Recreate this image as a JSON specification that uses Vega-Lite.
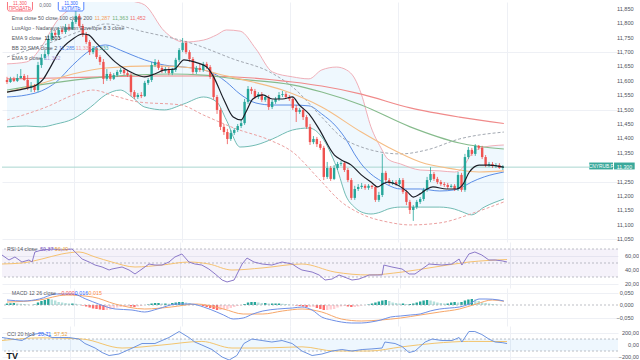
{
"$schema":"https://vega.github.io/schema/vega-lite/v6.json",
"padding":0,"spacing":0,"bounds":"flush","background":"white",
"config":{"view":{"stroke":null},"font":"Liberation Sans",
 "axis":{"domain":false,"ticks":false,"labels":false,"gridColor":"#eef0f5","gridWidth":1,"title":null},
 "text":{"font":"Liberation Sans","fontSize":5.3,"align":"left","baseline":"middle"}},
"datasets":{
"candles":[
{"i":0,"o":11.603,"h":11.614,"l":11.589,"c":11.596},{"i":1,"o":11.596,"h":11.614,"l":11.593,"c":11.607},{"i":2,"o":11.607,"h":11.614,"l":11.596,"c":11.600},{"i":3,"o":11.600,"h":11.624,"l":11.596,"c":11.610},{"i":4,"o":11.610,"h":11.641,"l":11.607,"c":11.617},{"i":5,"o":11.617,"h":11.624,"l":11.600,"c":11.603},{"i":6,"o":11.603,"h":11.620,"l":11.568,"c":11.575},{"i":7,"o":11.575,"h":11.596,"l":11.561,"c":11.582},{"i":8,"o":11.582,"h":11.589,"l":11.561,"c":11.568},{"i":9,"o":11.568,"h":11.666,"l":11.561,"c":11.655},
{"i":10,"o":11.655,"h":11.693,"l":11.645,"c":11.680},{"i":11,"o":11.680,"h":11.707,"l":11.673,"c":11.693},{"i":12,"o":11.693,"h":11.760,"l":11.687,"c":11.746},{"i":13,"o":11.746,"h":11.777,"l":11.739,"c":11.767},{"i":14,"o":11.767,"h":11.777,"l":11.753,"c":11.760},{"i":15,"o":11.760,"h":11.787,"l":11.753,"c":11.777},{"i":16,"o":11.777,"h":11.784,"l":11.763,"c":11.770},{"i":17,"o":11.770,"h":11.798,"l":11.763,"c":11.787},{"i":18,"o":11.787,"h":11.798,"l":11.773,"c":11.780},{"i":19,"o":11.780,"h":11.812,"l":11.777,"c":11.805},
{"i":20,"o":11.805,"h":11.847,"l":11.798,"c":11.826},{"i":21,"o":11.826,"h":11.833,"l":11.784,"c":11.791},{"i":22,"o":11.791,"h":11.798,"l":11.753,"c":11.760},{"i":23,"o":11.760,"h":11.770,"l":11.728,"c":11.735},{"i":24,"o":11.735,"h":11.742,"l":11.690,"c":11.700},{"i":25,"o":11.700,"h":11.721,"l":11.693,"c":11.714},{"i":26,"o":11.714,"h":11.721,"l":11.676,"c":11.683},{"i":27,"o":11.683,"h":11.690,"l":11.655,"c":11.666},{"i":28,"o":11.666,"h":11.676,"l":11.589,"c":11.607},{"i":29,"o":11.607,"h":11.641,"l":11.600,"c":11.624},
{"i":30,"o":11.624,"h":11.631,"l":11.600,"c":11.607},{"i":31,"o":11.607,"h":11.627,"l":11.603,"c":11.620},{"i":32,"o":11.620,"h":11.638,"l":11.614,"c":11.631},{"i":33,"o":11.631,"h":11.645,"l":11.624,"c":11.638},{"i":34,"o":11.638,"h":11.645,"l":11.620,"c":11.627},{"i":35,"o":11.627,"h":11.634,"l":11.614,"c":11.620},{"i":36,"o":11.620,"h":11.627,"l":11.547,"c":11.561},{"i":37,"o":11.561,"h":11.568,"l":11.537,"c":11.544},{"i":38,"o":11.544,"h":11.558,"l":11.537,"c":11.551},{"i":39,"o":11.551,"h":11.561,"l":11.540,"c":11.547},
{"i":40,"o":11.547,"h":11.600,"l":11.544,"c":11.593},{"i":41,"o":11.593,"h":11.610,"l":11.586,"c":11.603},{"i":42,"o":11.603,"h":11.666,"l":11.596,"c":11.655},{"i":43,"o":11.655,"h":11.676,"l":11.648,"c":11.666},{"i":44,"o":11.666,"h":11.673,"l":11.638,"c":11.645},{"i":45,"o":11.645,"h":11.652,"l":11.627,"c":11.634},{"i":46,"o":11.634,"h":11.648,"l":11.627,"c":11.641},{"i":47,"o":11.641,"h":11.648,"l":11.620,"c":11.627},{"i":48,"o":11.627,"h":11.645,"l":11.620,"c":11.638},{"i":49,"o":11.638,"h":11.680,"l":11.631,"c":11.673},
{"i":50,"o":11.673,"h":11.714,"l":11.666,"c":11.707},{"i":51,"o":11.707,"h":11.749,"l":11.700,"c":11.732},{"i":52,"o":11.732,"h":11.739,"l":11.693,"c":11.700},{"i":53,"o":11.700,"h":11.707,"l":11.666,"c":11.676},{"i":54,"o":11.676,"h":11.683,"l":11.624,"c":11.631},{"i":55,"o":11.631,"h":11.652,"l":11.624,"c":11.645},{"i":56,"o":11.645,"h":11.659,"l":11.631,"c":11.638},{"i":57,"o":11.638,"h":11.666,"l":11.631,"c":11.659},{"i":58,"o":11.659,"h":11.666,"l":11.641,"c":11.648},{"i":59,"o":11.648,"h":11.655,"l":11.607,"c":11.614},
{"i":60,"o":11.614,"h":11.624,"l":11.534,"c":11.544},{"i":61,"o":11.544,"h":11.551,"l":11.485,"c":11.499},{"i":62,"o":11.499,"h":11.506,"l":11.429,"c":11.440},{"i":63,"o":11.440,"h":11.450,"l":11.412,"c":11.422},{"i":64,"o":11.422,"h":11.433,"l":11.380,"c":11.398},{"i":65,"o":11.398,"h":11.429,"l":11.391,"c":11.419},{"i":66,"o":11.419,"h":11.436,"l":11.412,"c":11.429},{"i":67,"o":11.429,"h":11.450,"l":11.422,"c":11.443},{"i":68,"o":11.443,"h":11.464,"l":11.436,"c":11.453},{"i":69,"o":11.453,"h":11.537,"l":11.447,"c":11.527},
{"i":70,"o":11.527,"h":11.582,"l":11.520,"c":11.572},{"i":71,"o":11.572,"h":11.579,"l":11.554,"c":11.565},{"i":72,"o":11.565,"h":11.572,"l":11.537,"c":11.544},{"i":73,"o":11.544,"h":11.561,"l":11.537,"c":11.554},{"i":74,"o":11.554,"h":11.561,"l":11.527,"c":11.534},{"i":75,"o":11.534,"h":11.551,"l":11.527,"c":11.544},{"i":76,"o":11.544,"h":11.551,"l":11.499,"c":11.509},{"i":77,"o":11.509,"h":11.534,"l":11.502,"c":11.527},{"i":78,"o":11.527,"h":11.544,"l":11.520,"c":11.537},{"i":79,"o":11.537,"h":11.561,"l":11.530,"c":11.551},
{"i":80,"o":11.551,"h":11.565,"l":11.544,"c":11.554},{"i":81,"o":11.554,"h":11.561,"l":11.537,"c":11.544},{"i":82,"o":11.544,"h":11.551,"l":11.530,"c":11.537},{"i":83,"o":11.537,"h":11.544,"l":11.499,"c":11.506},{"i":84,"o":11.506,"h":11.516,"l":11.457,"c":11.492},{"i":85,"o":11.492,"h":11.506,"l":11.485,"c":11.499},{"i":86,"o":11.499,"h":11.506,"l":11.464,"c":11.474},{"i":87,"o":11.474,"h":11.481,"l":11.433,"c":11.440},{"i":88,"o":11.440,"h":11.450,"l":11.377,"c":11.387},{"i":89,"o":11.387,"h":11.408,"l":11.380,"c":11.398},
{"i":90,"o":11.398,"h":11.405,"l":11.370,"c":11.380},{"i":91,"o":11.380,"h":11.391,"l":11.360,"c":11.367},{"i":92,"o":11.367,"h":11.374,"l":11.255,"c":11.266},{"i":93,"o":11.266,"h":11.318,"l":11.259,"c":11.297},{"i":94,"o":11.297,"h":11.304,"l":11.252,"c":11.259},{"i":95,"o":11.259,"h":11.307,"l":11.255,"c":11.297},{"i":96,"o":11.297,"h":11.318,"l":11.290,"c":11.311},{"i":97,"o":11.311,"h":11.321,"l":11.304,"c":11.314},{"i":98,"o":11.314,"h":11.321,"l":11.283,"c":11.290},{"i":99,"o":11.290,"h":11.297,"l":11.248,"c":11.255},
{"i":100,"o":11.255,"h":11.262,"l":11.186,"c":11.193},{"i":101,"o":11.193,"h":11.235,"l":11.186,"c":11.224},{"i":102,"o":11.224,"h":11.241,"l":11.217,"c":11.231},{"i":103,"o":11.231,"h":11.245,"l":11.224,"c":11.235},{"i":104,"o":11.235,"h":11.241,"l":11.221,"c":11.228},{"i":105,"o":11.228,"h":11.241,"l":11.221,"c":11.235},{"i":106,"o":11.235,"h":11.238,"l":11.224,"c":11.231},{"i":107,"o":11.231,"h":11.238,"l":11.179,"c":11.186},{"i":108,"o":11.186,"h":11.214,"l":11.179,"c":11.203},{"i":109,"o":11.203,"h":11.346,"l":11.196,"c":11.280},
{"i":110,"o":11.280,"h":11.287,"l":11.245,"c":11.255},{"i":111,"o":11.255,"h":11.262,"l":11.238,"c":11.245},{"i":112,"o":11.245,"h":11.255,"l":11.238,"c":11.248},{"i":113,"o":11.248,"h":11.255,"l":11.235,"c":11.241},{"i":114,"o":11.241,"h":11.262,"l":11.235,"c":11.255},{"i":115,"o":11.255,"h":11.262,"l":11.207,"c":11.214},{"i":116,"o":11.214,"h":11.221,"l":11.168,"c":11.179},{"i":117,"o":11.179,"h":11.186,"l":11.137,"c":11.151},{"i":118,"o":11.151,"h":11.168,"l":11.113,"c":11.161},{"i":119,"o":11.161,"h":11.186,"l":11.154,"c":11.179},
{"i":120,"o":11.179,"h":11.196,"l":11.172,"c":11.189},{"i":121,"o":11.189,"h":11.228,"l":11.182,"c":11.221},{"i":122,"o":11.221,"h":11.266,"l":11.214,"c":11.255},{"i":123,"o":11.255,"h":11.300,"l":11.248,"c":11.276},{"i":124,"o":11.276,"h":11.283,"l":11.252,"c":11.259},{"i":125,"o":11.259,"h":11.266,"l":11.241,"c":11.248},{"i":126,"o":11.248,"h":11.255,"l":11.235,"c":11.241},{"i":127,"o":11.241,"h":11.248,"l":11.231,"c":11.238},{"i":128,"o":11.238,"h":11.245,"l":11.224,"c":11.231},{"i":129,"o":11.231,"h":11.241,"l":11.228,"c":11.235},
{"i":130,"o":11.235,"h":11.241,"l":11.217,"c":11.224},{"i":131,"o":11.224,"h":11.283,"l":11.217,"c":11.273},{"i":132,"o":11.273,"h":11.280,"l":11.214,"c":11.221},{"i":133,"o":11.221,"h":11.346,"l":11.214,"c":11.335},{"i":134,"o":11.335,"h":11.370,"l":11.328,"c":11.360},{"i":135,"o":11.360,"h":11.367,"l":11.339,"c":11.346},{"i":136,"o":11.346,"h":11.380,"l":11.339,"c":11.374},{"i":137,"o":11.374,"h":11.377,"l":11.360,"c":11.367},{"i":138,"o":11.367,"h":11.374,"l":11.328,"c":11.335},{"i":139,"o":11.335,"h":11.342,"l":11.300,"c":11.307},
{"i":140,"o":11.307,"h":11.318,"l":11.300,"c":11.311},{"i":141,"o":11.311,"h":11.318,"l":11.297,"c":11.304},{"i":142,"o":11.304,"h":11.314,"l":11.297,"c":11.307},{"i":143,"o":11.307,"h":11.314,"l":11.294,"c":11.297},{"i":144,"o":11.297,"h":11.307,"l":11.290,"c":11.300}
],
"lines":[
{"s":"e200","i":0,"v":11.607},{"s":"e200","i":14.3,"v":11.610},{"s":"e200","i":28.6,"v":11.614},{"s":"e200","i":42.9,"v":11.617},{"s":"e200","i":57.1,"v":11.617},{"s":"e200","i":71.4,"v":11.610},{"s":"e200","i":82.9,"v":11.596},{"s":"e200","i":91.4,"v":11.582},{"s":"e200","i":102.9,"v":11.554},{"s":"e200","i":117.1,"v":11.506},{"s":"e200","i":131.4,"v":11.474},{"s":"e200","i":144.3,"v":11.452},
{"s":"e100","i":0,"v":11.568},{"s":"e100","i":9.4,"v":11.586},{"s":"e100","i":28.6,"v":11.614},{"s":"e100","i":47.7,"v":11.624},{"s":"e100","i":57.1,"v":11.620},{"s":"e100","i":66.6,"v":11.607},{"s":"e100","i":82.9,"v":11.586},{"s":"e100","i":91.4,"v":11.561},{"s":"e100","i":102.9,"v":11.516},{"s":"e100","i":117.1,"v":11.440},{"s":"e100","i":131.4,"v":11.384},{"s":"e100","i":144.3,"v":11.363},
{"s":"e50","i":0,"v":11.561},{"s":"e50","i":9.4,"v":11.589},{"s":"e50","i":19.1,"v":11.624},{"s":"e50","i":28.6,"v":11.645},{"s":"e50","i":42.9,"v":11.652},{"s":"e50","i":54.3,"v":11.645},{"s":"e50","i":61.4,"v":11.624},{"s":"e50","i":71.4,"v":11.596},{"s":"e50","i":80,"v":11.568},{"s":"e50","i":91.4,"v":11.509},{"s":"e50","i":102.9,"v":11.422},{"s":"e50","i":110.6,"v":11.370},{"s":"e50","i":120,"v":11.318},{"s":"e50","i":129.4,"v":11.294},{"s":"e50","i":137.1,"v":11.283},{"s":"e50","i":144.3,"v":11.287},
{"s":"nwU","i":0,"v":11.683},{"s":"nwU","i":11.4,"v":11.728},{"s":"nwU","i":24.9,"v":11.787},{"s":"nwU","i":28.6,"v":11.798},{"s":"nwU","i":40,"v":11.770},{"s":"nwU","i":54.3,"v":11.728},{"s":"nwU","i":65.7,"v":11.676},{"s":"nwU","i":76.3,"v":11.631},{"s":"nwU","i":82.9,"v":11.579},{"s":"nwU","i":91.4,"v":11.474},{"s":"nwU","i":97.1,"v":11.405},{"s":"nwU","i":102.9,"v":11.370},{"s":"nwU","i":114.3,"v":11.346},{"s":"nwU","i":122,"v":11.360},{"s":"nwU","i":131.4,"v":11.398},{"s":"nwU","i":144.3,"v":11.422},
{"s":"nwL","i":0,"v":11.464},{"s":"nwL","i":11.4,"v":11.509},{"s":"nwL","i":20,"v":11.554},{"s":"nwL","i":24.9,"v":11.568},{"s":"nwL","i":31.4,"v":11.547},{"s":"nwL","i":38,"v":11.527},{"s":"nwL","i":50.6,"v":11.516},{"s":"nwL","i":57.1,"v":11.481},{"s":"nwL","i":66.6,"v":11.433},{"s":"nwL","i":76.3,"v":11.394},{"s":"nwL","i":82.9,"v":11.353},{"s":"nwL","i":90.6,"v":11.259},{"s":"nwL","i":97.1,"v":11.179},{"s":"nwL","i":102.9,"v":11.137},{"s":"nwL","i":110.6,"v":11.109},{"s":"nwL","i":117.1,"v":11.099},{"s":"nwL","i":125.7,"v":11.106},{"s":"nwL","i":136.3,"v":11.144},{"s":"nwL","i":144.3,"v":11.179},
{"s":"e9","i":0,"v":11.561},{"s":"e9","i":4.9,"v":11.572},{"s":"e9","i":8.6,"v":11.586},{"s":"e9","i":10.6,"v":11.607},{"s":"e9","i":12.3,"v":11.641},{"s":"e9","i":15.1,"v":11.700},{"s":"e9","i":19.1,"v":11.746},{"s":"e9","i":22,"v":11.763},{"s":"e9","i":23.7,"v":11.760},{"s":"e9","i":25.7,"v":11.735},{"s":"e9","i":28.6,"v":11.700},{"s":"e9","i":31.4,"v":11.666},{"s":"e9","i":34.3,"v":11.641},{"s":"e9","i":37.1,"v":11.624},{"s":"e9","i":40,"v":11.614},{"s":"e9","i":42.9,"v":11.624},{"s":"e9","i":45.7,"v":11.638},{"s":"e9","i":48.6,"v":11.641},{"s":"e9","i":51.4,"v":11.673},{"s":"e9","i":54.3,"v":11.666},{"s":"e9","i":58,"v":11.648},{"s":"e9","i":60,"v":11.614},{"s":"e9","i":62.9,"v":11.537},{"s":"e9","i":65.7,"v":11.474},{"s":"e9","i":68,"v":11.464},{"s":"e9","i":69.4,"v":11.492},{"s":"e9","i":71.4,"v":11.537},{"s":"e9","i":74.3,"v":11.551},{"s":"e9","i":77.1,"v":11.537},{"s":"e9","i":80,"v":11.537},{"s":"e9","i":82.9,"v":11.544},{"s":"e9","i":84.9,"v":11.516},{"s":"e9","i":87.7,"v":11.485},{"s":"e9","i":90.6,"v":11.433},{"s":"e9","i":95.1,"v":11.342},{"s":"e9","i":97.1,"v":11.325},{"s":"e9","i":100,"v":11.307},{"s":"e9","i":102.9,"v":11.273},{"s":"e9","i":105.7,"v":11.248},{"s":"e9","i":107.7,"v":11.231},{"s":"e9","i":109.1,"v":11.241},{"s":"e9","i":110.6,"v":11.248},{"s":"e9","i":113.4,"v":11.238},{"s":"e9","i":116.3,"v":11.214},{"s":"e9","i":118,"v":11.196},{"s":"e9","i":120,"v":11.207},{"s":"e9","i":122,"v":11.224},{"s":"e9","i":123.7,"v":11.231},{"s":"e9","i":127.7,"v":11.224},{"s":"e9","i":130.6,"v":11.224},{"s":"e9","i":132.3,"v":11.238},{"s":"e9","i":134.3,"v":11.283},{"s":"e9","i":137.1,"v":11.307},{"s":"e9","i":140,"v":11.307},{"s":"e9","i":144.3,"v":11.300}
],
"bb":[
{"i":0,"up":11.659,"mid":11.544,"lo":11.440},{"i":5.7,"up":11.666,"mid":11.551,"lo":11.443},{"i":10,"up":11.718,"mid":11.565,"lo":11.440},{"i":14.3,"up":11.805,"mid":11.596,"lo":11.450},{"i":19.1,"up":11.857,"mid":11.655,"lo":11.467},{"i":24.3,"up":11.892,"mid":11.707,"lo":11.509},{"i":28.6,"up":11.902,"mid":11.725,"lo":11.551},{"i":32.9,"up":11.892,"mid":11.707,"lo":11.568},{"i":36.3,"up":11.878,"mid":11.690,"lo":11.544},{"i":40,"up":11.864,"mid":11.673,"lo":11.509},{"i":45.7,"up":11.773,"mid":11.655,"lo":11.499},{"i":51.4,"up":11.735,"mid":11.648,"lo":11.520},{"i":57.1,"up":11.742,"mid":11.638,"lo":11.544},{"i":60.9,"up":11.760,"mid":11.620,"lo":11.527},{"i":63.7,"up":11.777,"mid":11.596,"lo":11.464},{"i":67.7,"up":11.773,"mid":11.554,"lo":11.370},{"i":72.3,"up":11.711,"mid":11.523,"lo":11.377},{"i":77.1,"up":11.631,"mid":11.516,"lo":11.398},{"i":82.9,"up":11.614,"mid":11.516,"lo":11.429},{"i":87.7,"up":11.607,"mid":11.513,"lo":11.436},{"i":91.4,"up":11.638,"mid":11.485,"lo":11.405},{"i":95.7,"up":11.648,"mid":11.440,"lo":11.300},{"i":98.6,"up":11.638,"mid":11.394,"lo":11.196},{"i":100.9,"up":11.610,"mid":11.346,"lo":11.161},{"i":102.9,"up":11.554,"mid":11.311,"lo":11.144},{"i":105.7,"up":11.440,"mid":11.276,"lo":11.137},{"i":108.6,"up":11.367,"mid":11.252,"lo":11.144},{"i":110.6,"up":11.328,"mid":11.238,"lo":11.154},{"i":114.3,"up":11.311,"mid":11.224,"lo":11.161},{"i":120,"up":11.290,"mid":11.224,"lo":11.161},{"i":125.7,"up":11.287,"mid":11.217,"lo":11.161},{"i":130,"up":11.283,"mid":11.221,"lo":11.154},{"i":132.3,"up":11.297,"mid":11.231,"lo":11.144},{"i":134.9,"up":11.346,"mid":11.248,"lo":11.134},{"i":138.6,"up":11.370,"mid":11.266,"lo":11.161},{"i":144.3,"up":11.377,"mid":11.283,"lo":11.189}
],
"rsi":[
{"s":"r","i":0,"v":61.4},{"s":"r","i":2,"v":54.3},{"s":"r","i":3.7,"v":58.6},{"s":"r","i":5.7,"v":51.4},{"s":"r","i":7.7,"v":54.3},{"s":"r","i":8.6,"v":51.4},{"s":"r","i":9.4,"v":65.7},{"s":"r","i":11.4,"v":68.6},{"s":"r","i":14.3,"v":70.0},{"s":"r","i":17.1,"v":68.6},{"s":"r","i":20,"v":70.0},{"s":"r","i":20.9,"v":65.7},{"s":"r","i":22.9,"v":55.7},{"s":"r","i":24.9,"v":51.4},{"s":"r","i":26.6,"v":47.1},{"s":"r","i":28.6,"v":44.3},{"s":"r","i":30.6,"v":40.0},{"s":"r","i":31.4,"v":41.4},{"s":"r","i":34.3,"v":44.3},{"s":"r","i":36.3,"v":40.0},{"s":"r","i":38,"v":34.3},{"s":"r","i":40,"v":41.4},{"s":"r","i":42,"v":48.6},{"s":"r","i":43.7,"v":47.1},{"s":"r","i":45.7,"v":47.1},{"s":"r","i":47.7,"v":51.4},{"s":"r","i":49.4,"v":58.6},{"s":"r","i":51.4,"v":62.9},{"s":"r","i":53.4,"v":51.4},{"s":"r","i":55.1,"v":48.6},{"s":"r","i":57.1,"v":47.1},{"s":"r","i":59.1,"v":41.4},{"s":"r","i":60.9,"v":34.3},{"s":"r","i":62.9,"v":25.7},{"s":"r","i":64.3,"v":22.9},{"s":"r","i":66.3,"v":25.7},{"s":"r","i":68.6,"v":48.6},{"s":"r","i":70,"v":57.1},{"s":"r","i":72,"v":51.4},{"s":"r","i":74.3,"v":48.6},{"s":"r","i":77.1,"v":47.1},{"s":"r","i":80,"v":51.4},{"s":"r","i":82.9,"v":48.6},{"s":"r","i":84.6,"v":42.9},{"s":"r","i":85.7,"v":40.0},{"s":"r","i":88.6,"v":37.1},{"s":"r","i":90.6,"v":32.9},{"s":"r","i":92.3,"v":25.7},{"s":"r","i":94.3,"v":27.1},{"s":"r","i":96.3,"v":32.9},{"s":"r","i":100,"v":25.7},{"s":"r","i":102,"v":27.1},{"s":"r","i":104.9,"v":32.9},{"s":"r","i":106.6,"v":32.9},{"s":"r","i":108.6,"v":32.9},{"s":"r","i":109.1,"v":47.1},{"s":"r","i":111.4,"v":44.3},{"s":"r","i":114.3,"v":41.4},{"s":"r","i":116.3,"v":34.3},{"s":"r","i":118,"v":34.3},{"s":"r","i":120,"v":41.4},{"s":"r","i":122,"v":48.6},{"s":"r","i":125.7,"v":47.1},{"s":"r","i":128.6,"v":48.6},{"s":"r","i":130.6,"v":55.7},{"s":"r","i":131.4,"v":47.1},{"s":"r","i":133.4,"v":62.9},{"s":"r","i":135.1,"v":65.7},{"s":"r","i":137.1,"v":61.4},{"s":"r","i":139.1,"v":54.3},{"s":"r","i":140.9,"v":54.3},{"s":"r","i":142.9,"v":53.0},{"s":"r","i":144.3,"v":51.4},
{"s":"m","i":0,"v":48.6},{"s":"m","i":5.7,"v":50.0},{"s":"m","i":11.4,"v":55.7},{"s":"m","i":17.1,"v":62.9},{"s":"m","i":22,"v":65.7},{"s":"m","i":26.6,"v":58.6},{"s":"m","i":31.4,"v":51.4},{"s":"m","i":38,"v":44.3},{"s":"m","i":45.7,"v":47.1},{"s":"m","i":53.4,"v":51.4},{"s":"m","i":59.1,"v":48.6},{"s":"m","i":65.7,"v":40.0},{"s":"m","i":74.3,"v":42.9},{"s":"m","i":85.7,"v":48.6},{"s":"m","i":95.1,"v":37.1},{"s":"m","i":104.9,"v":32.9},{"s":"m","i":114.3,"v":37.1},{"s":"m","i":123.7,"v":44.3},{"s":"m","i":133.4,"v":51.4},{"s":"m","i":144.3,"v":55.0}
],
"macd":[
{"s":"m","i":0,"v":0.020},{"s":"m","i":4.9,"v":0.016},{"s":"m","i":9.4,"v":0.024},{"s":"m","i":14.3,"v":0.044},{"s":"m","i":19.1,"v":0.044},{"s":"m","i":22.9,"v":0.024},{"s":"m","i":26.6,"v":0.004},{"s":"m","i":31.4,"v":-0.016},{"s":"m","i":36.3,"v":-0.020},{"s":"m","i":40,"v":-0.028},{"s":"m","i":43.7,"v":-0.016},{"s":"m","i":49.4,"v":0.004},{"s":"m","i":53.4,"v":0.004},{"s":"m","i":57.1,"v":-0.008},{"s":"m","i":60.9,"v":-0.028},{"s":"m","i":62.9,"v":-0.040},{"s":"m","i":65.7,"v":-0.056},{"s":"m","i":68.6,"v":-0.052},{"s":"m","i":71.4,"v":-0.036},{"s":"m","i":74.3,"v":-0.024},{"s":"m","i":78.6,"v":-0.016},{"s":"m","i":82.9,"v":-0.012},{"s":"m","i":85.7,"v":-0.008},{"s":"m","i":88.6,"v":-0.020},{"s":"m","i":91.4,"v":-0.048},{"s":"m","i":94.3,"v":-0.060},{"s":"m","i":97.1,"v":-0.068},{"s":"m","i":100,"v":-0.072},{"s":"m","i":102.9,"v":-0.072},{"s":"m","i":105.7,"v":-0.068},{"s":"m","i":108.6,"v":-0.060},{"s":"m","i":111.4,"v":-0.048},{"s":"m","i":114.3,"v":-0.044},{"s":"m","i":117.1,"v":-0.040},{"s":"m","i":120,"v":-0.036},{"s":"m","i":122.9,"v":-0.024},{"s":"m","i":125.7,"v":-0.016},{"s":"m","i":128.6,"v":-0.012},{"s":"m","i":131.4,"v":-0.008},{"s":"m","i":134.3,"v":0.004},{"s":"m","i":137.1,"v":0.024},{"s":"m","i":139.1,"v":0.024},{"s":"m","i":142.9,"v":0.020},{"s":"m","i":144.3,"v":0.016},
{"s":"g","i":0,"v":0.012},{"s":"g","i":9.4,"v":0.020},{"s":"g","i":17.1,"v":0.040},{"s":"g","i":24.9,"v":0.032},{"s":"g","i":31.4,"v":0.004},{"s":"g","i":40,"v":-0.016},{"s":"g","i":47.7,"v":-0.008},{"s":"g","i":55.1,"v":0.004},{"s":"g","i":62.9,"v":-0.016},{"s":"g","i":68.6,"v":-0.036},{"s":"g","i":74.3,"v":-0.036},{"s":"g","i":80,"v":-0.024},{"s":"g","i":85.7,"v":-0.016},{"s":"g","i":91.4,"v":-0.028},{"s":"g","i":97.1,"v":-0.056},{"s":"g","i":102.9,"v":-0.064},{"s":"g","i":108.6,"v":-0.060},{"s":"g","i":114.3,"v":-0.052},{"s":"g","i":120,"v":-0.040},{"s":"g","i":125.7,"v":-0.028},{"s":"g","i":131.4,"v":-0.016},{"s":"g","i":136.3,"v":0.004},{"s":"g","i":140.9,"v":0.020},{"s":"g","i":144.3,"v":0.015}
],
"hist":[
{"i":0,"h":0.006},{"i":1,"h":0.007},{"i":2,"h":0.008},{"i":3,"h":0.006},{"i":4,"h":0.005},{"i":5,"h":0.004},{"i":6,"h":0.002},{"i":7,"h":0.000},{"i":8,"h":0.002},{"i":9,"h":0.010},{"i":10,"h":0.016},{"i":11,"h":0.020},{"i":12,"h":0.024},{"i":13,"h":0.022},{"i":14,"h":0.018},{"i":15,"h":0.012},{"i":16,"h":0.010},{"i":17,"h":0.008},{"i":18,"h":0.006},{"i":19,"h":0.006},{"i":20,"h":0.005},{"i":21,"h":0.002},{"i":22,"h":-0.002},{"i":23,"h":-0.006},{"i":24,"h":-0.010},{"i":25,"h":-0.014},{"i":26,"h":-0.016},{"i":27,"h":-0.018},{"i":28,"h":-0.020},{"i":29,"h":-0.020},{"i":30,"h":-0.018},{"i":31,"h":-0.014},{"i":32,"h":-0.010},{"i":33,"h":-0.008},{"i":34,"h":-0.006},{"i":35,"h":-0.004},{"i":36,"h":-0.006},{"i":37,"h":-0.008},{"i":38,"h":-0.006},{"i":39,"h":-0.004},{"i":40,"h":0.000},{"i":41,"h":0.002},{"i":42,"h":0.006},{"i":43,"h":0.008},{"i":44,"h":0.008},{"i":45,"h":0.006},{"i":46,"h":0.006},{"i":47,"h":0.005},{"i":48,"h":0.008},{"i":49,"h":0.010},{"i":50,"h":0.012},{"i":51,"h":0.012},{"i":52,"h":0.010},{"i":53,"h":0.008},{"i":54,"h":0.004},{"i":55,"h":0.002},{"i":56,"h":0.000},{"i":57,"h":-0.004},{"i":58,"h":-0.008},{"i":59,"h":-0.012},{"i":60,"h":-0.016},{"i":61,"h":-0.020},{"i":62,"h":-0.020},{"i":63,"h":-0.018},{"i":64,"h":-0.016},{"i":65,"h":-0.012},{"i":66,"h":-0.008},{"i":67,"h":-0.004},{"i":68,"h":-0.002},{"i":69,"h":0.004},{"i":70,"h":0.010},{"i":71,"h":0.012},{"i":72,"h":0.012},{"i":73,"h":0.010},{"i":74,"h":0.008},{"i":75,"h":0.008},{"i":76,"h":0.006},{"i":77,"h":0.006},{"i":78,"h":0.006},{"i":79,"h":0.006},{"i":80,"h":0.005},{"i":81,"h":0.004},{"i":82,"h":0.002},{"i":83,"h":0.000},{"i":84,"h":-0.002},{"i":85,"h":-0.004},{"i":86,"h":-0.006},{"i":87,"h":-0.008},{"i":88,"h":-0.008},{"i":89,"h":-0.008},{"i":90,"h":-0.012},{"i":91,"h":-0.016},{"i":92,"h":-0.020},{"i":93,"h":-0.020},{"i":94,"h":-0.018},{"i":95,"h":-0.016},{"i":96,"h":-0.010},{"i":97,"h":-0.006},{"i":98,"h":-0.004},{"i":99,"h":-0.006},{"i":100,"h":-0.008},{"i":101,"h":-0.008},{"i":102,"h":-0.006},{"i":103,"h":-0.002},{"i":104,"h":0.000},{"i":105,"h":0.002},{"i":106,"h":0.006},{"i":107,"h":0.010},{"i":108,"h":0.014},{"i":109,"h":0.018},{"i":110,"h":0.020},{"i":111,"h":0.016},{"i":112,"h":0.010},{"i":113,"h":0.008},{"i":114,"h":0.006},{"i":115,"h":0.006},{"i":116,"h":0.004},{"i":117,"h":0.004},{"i":118,"h":0.006},{"i":119,"h":0.010},{"i":120,"h":0.014},{"i":121,"h":0.018},{"i":122,"h":0.020},{"i":123,"h":0.018},{"i":124,"h":0.014},{"i":125,"h":0.010},{"i":126,"h":0.008},{"i":127,"h":0.006},{"i":128,"h":0.006},{"i":129,"h":0.010},{"i":130,"h":0.012},{"i":131,"h":0.010},{"i":132,"h":0.012},{"i":133,"h":0.018},{"i":134,"h":0.022},{"i":135,"h":0.024},{"i":136,"h":0.022},{"i":137,"h":0.016},{"i":138,"h":0.010},{"i":139,"h":0.008},{"i":140,"h":0.006},{"i":141,"h":0.004},{"i":142,"h":0.002},{"i":143,"h":0.001},{"i":144,"h":0.000}
],
"cci":[
{"s":"c","i":0,"v":125},{"s":"c","i":2.9,"v":100},{"s":"c","i":5.7,"v":75},{"s":"c","i":8.6,"v":175},{"s":"c","i":11.4,"v":200},{"s":"c","i":14.3,"v":125},{"s":"c","i":19.1,"v":125},{"s":"c","i":22,"v":100},{"s":"c","i":23.7,"v":25},{"s":"c","i":26.6,"v":-50},{"s":"c","i":28.6,"v":-125},{"s":"c","i":30.6,"v":-175},{"s":"c","i":33.4,"v":-150},{"s":"c","i":36.3,"v":-75},{"s":"c","i":40,"v":25},{"s":"c","i":43.7,"v":25},{"s":"c","i":47.7,"v":125},{"s":"c","i":50.6,"v":225},{"s":"c","i":53.4,"v":125},{"s":"c","i":55.1,"v":50},{"s":"c","i":57.1,"v":0},{"s":"c","i":60,"v":-75},{"s":"c","i":62.9,"v":-200},{"s":"c","i":64.9,"v":-250},{"s":"c","i":67.1,"v":-175},{"s":"c","i":69.1,"v":25},{"s":"c","i":71.4,"v":100},{"s":"c","i":74.3,"v":75},{"s":"c","i":77.1,"v":50},{"s":"c","i":80,"v":75},{"s":"c","i":82.9,"v":25},{"s":"c","i":84.6,"v":-50},{"s":"c","i":85.7,"v":-100},{"s":"c","i":88.6,"v":-175},{"s":"c","i":91.4,"v":-150},{"s":"c","i":94.3,"v":-100},{"s":"c","i":97.1,"v":-75},{"s":"c","i":100,"v":-100},{"s":"c","i":102.9,"v":-75},{"s":"c","i":105.7,"v":-65},{"s":"c","i":108.6,"v":-50},{"s":"c","i":109.4,"v":50},{"s":"c","i":112.3,"v":25},{"s":"c","i":114.3,"v":-25},{"s":"c","i":116.3,"v":-125},{"s":"c","i":118,"v":-100},{"s":"c","i":120.9,"v":50},{"s":"c","i":122.9,"v":100},{"s":"c","i":125.7,"v":75},{"s":"c","i":128.6,"v":75},{"s":"c","i":130.6,"v":125},{"s":"c","i":131.4,"v":50},{"s":"c","i":133.4,"v":225},{"s":"c","i":135.1,"v":225},{"s":"c","i":137.1,"v":175},{"s":"c","i":139.1,"v":100},{"s":"c","i":140.9,"v":50},{"s":"c","i":142.9,"v":40},{"s":"c","i":144.3,"v":25},
{"s":"m","i":0,"v":75},{"s":"m","i":11.4,"v":120},{"s":"m","i":22.9,"v":100},{"s":"m","i":34.3,"v":-50},{"s":"m","i":45.7,"v":0},{"s":"m","i":57.1,"v":60},{"s":"m","i":65.7,"v":-50},{"s":"m","i":74.3,"v":-50},{"s":"m","i":85.7,"v":-30},{"s":"m","i":95.1,"v":-100},{"s":"m","i":104.9,"v":-100},{"s":"m","i":114.3,"v":-30},{"s":"m","i":123.7,"v":30},{"s":"m","i":133.4,"v":60},{"s":"m","i":144.3,"v":58}
]
},
"vconcat":[
{"width":616,"height":240,
 "layer":[
  {"data":{"name":"bb"},"mark":{"type":"area","color":"#2196f3","opacity":0.07,"clip":true,"interpolate":"monotone"},
   "encoding":{"x":{"field":"i","type":"quantitative","scale":{"domain":[0,176],"nice":false,"zero":false},"axis":{"values":[19.4,50.9,82.3,113.7,145.1],"grid":true,"labels":false,"title":null}},
    "y":{"field":"up","type":"quantitative","scale":{"domain":[11.0396,11.8743],"nice":false,"zero":false},"axis":{"orient":"right","values":[11.05,11.1,11.15,11.2,11.25,11.35,11.4,11.45,11.5,11.55,11.6,11.65,11.7,11.75,11.8,11.85],"grid":true,"labels":false,"title":null}},
    "y2":{"field":"lo"}}},
  {"data":{"values":[{}]},"mark":{"type":"rule","color":"#a9d6d0","strokeWidth":1},"encoding":{"y":{"datum":11.3}}},
  {"data":{"name":"bb"},"mark":{"type":"line","color":"#eea6b0","strokeWidth":0.9,"clip":true,"interpolate":"monotone"},"encoding":{"x":{"field":"i","type":"quantitative"},"y":{"field":"up","type":"quantitative"}}},
  {"data":{"name":"bb"},"mark":{"type":"line","color":"#62b3aa","strokeWidth":0.9,"clip":true,"interpolate":"monotone"},"encoding":{"x":{"field":"i","type":"quantitative"},"y":{"field":"lo","type":"quantitative"}}},
  {"data":{"name":"bb"},"mark":{"type":"line","color":"#5b8de6","strokeWidth":1,"clip":true,"interpolate":"monotone"},"encoding":{"x":{"field":"i","type":"quantitative"},"y":{"field":"mid","type":"quantitative"}}},
  {"data":{"name":"lines"},"transform":[{"filter":"datum.s==='nwU'"}],"mark":{"type":"line","color":"#a3a9b2","strokeWidth":1,"strokeDash":[3,2],"clip":true,"interpolate":"monotone"},"encoding":{"x":{"field":"i","type":"quantitative"},"y":{"field":"v","type":"quantitative"}}},
  {"data":{"name":"lines"},"transform":[{"filter":"datum.s==='nwL'"}],"mark":{"type":"line","color":"#eba0a0","strokeWidth":1,"strokeDash":[3,2],"clip":true,"interpolate":"monotone"},"encoding":{"x":{"field":"i","type":"quantitative"},"y":{"field":"v","type":"quantitative"}}},
  {"data":{"name":"lines"},"transform":[{"filter":"datum.s==='e200'"}],"mark":{"type":"line","color":"#f08a8a","strokeWidth":1.1,"clip":true,"interpolate":"monotone"},"encoding":{"x":{"field":"i","type":"quantitative"},"y":{"field":"v","type":"quantitative"}}},
  {"data":{"name":"lines"},"transform":[{"filter":"datum.s==='e100'"}],"mark":{"type":"line","color":"#86bb8c","strokeWidth":1.1,"clip":true,"interpolate":"monotone"},"encoding":{"x":{"field":"i","type":"quantitative"},"y":{"field":"v","type":"quantitative"}}},
  {"data":{"name":"lines"},"transform":[{"filter":"datum.s==='e50'"}],"mark":{"type":"line","color":"#f5bd85","strokeWidth":1.1,"clip":true,"interpolate":"monotone"},"encoding":{"x":{"field":"i","type":"quantitative"},"y":{"field":"v","type":"quantitative"}}},
  {"data":{"name":"candles"},"mark":{"type":"rule","strokeWidth":0.8},"encoding":{"x":{"field":"i","type":"quantitative"},"y":{"field":"l","type":"quantitative"},"y2":{"field":"h"},"color":{"condition":{"test":"datum.c>=datum.o","value":"#26a69a"},"value":"#ef5350"}}},
  {"data":{"name":"candles"},"mark":{"type":"bar","size":2.4},"encoding":{"x":{"field":"i","type":"quantitative"},"y":{"field":"o","type":"quantitative"},"y2":{"field":"c"},"color":{"condition":{"test":"datum.c>=datum.o","value":"#26a69a"},"value":"#ef5350"}}},
  {"data":{"name":"lines"},"transform":[{"filter":"datum.s==='e9'"}],"mark":{"type":"line","color":"#1c1f28","strokeWidth":1.2,"clip":true,"interpolate":"monotone"},"encoding":{"x":{"field":"i","type":"quantitative"},"y":{"field":"v","type":"quantitative"}}},
  {"data":{"values":[{"v":11.05},{"v":11.1},{"v":11.15},{"v":11.2},{"v":11.25},{"v":11.35},{"v":11.4},{"v":11.45},{"v":11.5},{"v":11.55},{"v":11.6},{"v":11.65},{"v":11.7},{"v":11.75},{"v":11.8},{"v":11.85}]},
   "transform":[{"calculate":"replace(format(datum.v,'.3f'),'.',',')","as":"t"}],
   "mark":{"type":"text","align":"right","fontSize":5.6,"color":"#50535e"},"encoding":{"x":{"datum":182},"y":{"field":"v","type":"quantitative"},"text":{"field":"t"}}},
  {"data":{"values":[{}]},"mark":{"type":"text","color":"#555964","text":"Ema close 50 close 100 close 200"},"encoding":{"x":{"datum":1.4},"y":{"datum":11.819}}},
  {"data":{"values":[{}]},"mark":{"type":"text","color":"#f5a25d","text":"11,287"},"encoding":{"x":{"datum":25.4},"y":{"datum":11.819}}},
  {"data":{"values":[{}]},"mark":{"type":"text","color":"#6fb07a","text":"11,363"},"encoding":{"x":{"datum":30.6},"y":{"datum":11.819}}},
  {"data":{"values":[{}]},"mark":{"type":"text","color":"#ef6f6f","text":"11,452"},"encoding":{"x":{"datum":35.7},"y":{"datum":11.819}}},
  {"data":{"values":[{}]},"mark":{"type":"text","color":"#555964","text":"LuxAlgo - Nadaraya-Watson Envelope 8 3 close"},"encoding":{"x":{"datum":1.4},"y":{"datum":11.784}}},
  {"data":{"values":[{}]},"mark":{"type":"text","color":"#555964","text":"EMA 9 close"},"encoding":{"x":{"datum":1.4},"y":{"datum":11.749}}},
  {"data":{"values":[{}]},"mark":{"type":"text","color":"#222222","text":"11,303"},"encoding":{"x":{"datum":10.9},"y":{"datum":11.749}}},
  {"data":{"values":[{}]},"mark":{"type":"text","color":"#555964","text":"BB 20 SMA close 2"},"encoding":{"x":{"datum":1.4},"y":{"datum":11.714}}},
  {"data":{"values":[{}]},"mark":{"type":"text","color":"#4f86e8","text":"11,285"},"encoding":{"x":{"datum":15.1},"y":{"datum":11.714}}},
  {"data":{"values":[{}]},"mark":{"type":"text","color":"#ee9aa5","text":"11,337"},"encoding":{"x":{"datum":20},"y":{"datum":11.714}}},
  {"data":{"values":[{}]},"mark":{"type":"text","color":"#4fb0a5","text":"11,233"},"encoding":{"x":{"datum":24.9},"y":{"datum":11.714}}},
  {"data":{"values":[{}]},"mark":{"type":"text","color":"#555964","text":"EMA 9 close"},"encoding":{"x":{"datum":1.4},"y":{"datum":11.68}}},
  {"data":{"values":[{}]},"mark":{"type":"text","color":"#b39ddb","text":"11,302"},"encoding":{"x":{"datum":10.9},"y":{"datum":11.68}}},
  {"data":{"values":[{}]},"mark":{"type":"rect","fill":"white","stroke":"#f7525f","strokeWidth":0.8,"cornerRadius":2,"clip":true},"encoding":{"x":{"datum":0.14},"x2":{"datum":7.4},"y":{"datum":11.885},"y2":{"datum":11.843}}},
  {"data":{"values":[{}]},"mark":{"type":"rect","fill":"white","stroke":"#2962ff","strokeWidth":0.8,"cornerRadius":2,"clip":true},"encoding":{"x":{"datum":14.9},"x2":{"datum":22.3},"y":{"datum":11.885},"y2":{"datum":11.843}}},
  {"data":{"values":[{}]},"mark":{"type":"text","color":"#f7525f","align":"center","fontSize":4.8,"text":"ПРОДАТЬ"},"encoding":{"x":{"datum":3.77},"y":{"datum":11.851}}},
  {"data":{"values":[{}]},"mark":{"type":"text","color":"#2962ff","align":"center","fontSize":4.8,"text":"КУПИТЬ"},"encoding":{"x":{"datum":18.6},"y":{"datum":11.851}}},
  {"data":{"values":[{}]},"mark":{"type":"text","color":"#f7525f","align":"center","fontSize":4.6,"text":"11,300"},"encoding":{"x":{"datum":3.77},"y":{"datum":11.8685}}},
  {"data":{"values":[{}]},"mark":{"type":"text","color":"#2962ff","align":"center","fontSize":4.6,"text":"11,300"},"encoding":{"x":{"datum":18.6},"y":{"datum":11.8685}}},
  {"data":{"values":[{}]},"mark":{"type":"text","color":"#6a6d78","align":"center","fontSize":4.8,"text":"0,000"},"encoding":{"x":{"datum":11.1},"y":{"datum":11.862}}},
  {"data":{"values":[{}]},"mark":{"type":"rect","fill":"#3aa99b"},"encoding":{"x":{"datum":169.1},"x2":{"datum":176},"y":{"datum":11.316},"y2":{"datum":11.292}}},
  {"data":{"values":[{}]},"mark":{"type":"rect","fill":"#3aa99b"},"encoding":{"x":{"datum":176.3},"x2":{"datum":182.3},"y":{"datum":11.316},"y2":{"datum":11.292}}},
  {"data":{"values":[{}]},"mark":{"type":"text","color":"white","align":"center","fontSize":4.8,"text":"CNYRUB.F"},"encoding":{"x":{"datum":172.55},"y":{"datum":11.3}}},
  {"data":{"values":[{}]},"mark":{"type":"text","color":"white","align":"center","fontSize":5.2,"text":"11,300"},"encoding":{"x":{"datum":179.3},"y":{"datum":11.3}}}
 ]},
{"width":616,"height":46,
 "layer":[
  {"data":{"values":[{}]},"mark":{"type":"rect","color":"#7e57c2","opacity":0.08},
   "encoding":{"x":{"datum":0,"type":"quantitative","scale":{"domain":[0,176],"nice":false,"zero":false},"axis":{"values":[19.4,50.9,82.3,113.7,145.1],"grid":true,"labels":false,"title":null}},"x2":{"datum":176},
    "y":{"datum":70,"type":"quantitative","scale":{"domain":[14.3,80],"nice":false,"zero":false},"axis":{"orient":"right","values":[20,40,60],"grid":true,"labels":false,"title":null}},"y2":{"datum":30}}},
  {"data":{"values":[{"v":70},{"v":50},{"v":30}]},"mark":{"type":"rule","color":"#a0a3ac","strokeWidth":0.7,"strokeDash":[2,2]},"encoding":{"y":{"field":"v","type":"quantitative"}}},
  {"data":{"name":"rsi"},"transform":[{"filter":"datum.s==='m'"}],"mark":{"type":"line","color":"#f5c271","strokeWidth":1,"interpolate":"monotone"},"encoding":{"x":{"field":"i","type":"quantitative"},"y":{"field":"v","type":"quantitative"}}},
  {"data":{"name":"rsi"},"transform":[{"filter":"datum.s==='r'"}],"mark":{"type":"line","color":"#8b79c9","strokeWidth":1},"encoding":{"x":{"field":"i","type":"quantitative"},"y":{"field":"v","type":"quantitative"}}},
  {"data":{"values":[{"v":20},{"v":40},{"v":60}]},"transform":[{"calculate":"replace(format(datum.v,'.2f'),'.',',')","as":"t"}],
   "mark":{"type":"text","align":"right","fontSize":5.6,"color":"#50535e"},"encoding":{"x":{"datum":182},"y":{"field":"v","type":"quantitative"},"text":{"field":"t"}}},
  {"data":{"values":[{}]},"mark":{"type":"text","color":"#555964","text":"RSI 14 close"},"encoding":{"x":{"datum":1.4},"y":{"datum":70}}},
  {"data":{"values":[{}]},"mark":{"type":"text","color":"#7e57c2","text":"50,37"},"encoding":{"x":{"datum":10.9},"y":{"datum":70}}},
  {"data":{"values":[{}]},"mark":{"type":"text","color":"#e8a23a","text":"56,49"},"encoding":{"x":{"datum":15.1},"y":{"datum":70}}}
 ]},
{"width":616,"height":38,
 "layer":[
  {"data":{"name":"hist"},"transform":[{"window":[{"op":"lag","field":"h","as":"ph"}],"sort":[{"field":"i"}]}],"mark":{"type":"bar","size":2.4},
   "encoding":{"x":{"field":"i","type":"quantitative","scale":{"domain":[0,176],"nice":false,"zero":false},"axis":{"values":[19.4,50.9,82.3,113.7,145.1],"grid":true,"labels":false,"title":null}},
    "y":{"field":"h","type":"quantitative","scale":{"domain":[-0.084,0.068],"nice":false,"zero":false},"axis":{"orient":"right","values":[-0.05,0,0.05],"grid":true,"labels":false,"title":null}},
    "y2":{"datum":0},
    "color":{"condition":[{"test":"datum.h>=0 && datum.h>=datum.ph","value":"#26a69a"},{"test":"datum.h>=0","value":"#b2dfdb"},{"test":"datum.h<datum.ph","value":"#ff6b6b"}],"value":"#ffcdd2"}}},
  {"data":{"values":[{}]},"mark":{"type":"rule","color":"#a0a3ac","strokeWidth":0.7,"strokeDash":[2,2]},"encoding":{"y":{"datum":0}}},
  {"data":{"name":"macd"},"transform":[{"filter":"datum.s==='g'"}],"mark":{"type":"line","color":"#f7a76a","strokeWidth":1,"interpolate":"monotone"},"encoding":{"x":{"field":"i","type":"quantitative"},"y":{"field":"v","type":"quantitative"}}},
  {"data":{"name":"macd"},"transform":[{"filter":"datum.s==='m'"}],"mark":{"type":"line","color":"#6f8fe6","strokeWidth":1,"interpolate":"monotone"},"encoding":{"x":{"field":"i","type":"quantitative"},"y":{"field":"v","type":"quantitative"}}},
  {"data":{"values":[{"v":-0.05},{"v":0},{"v":0.05}]},"transform":[{"calculate":"replace(format(datum.v,'.3f'),'.',',')","as":"t"}],
   "mark":{"type":"text","align":"right","fontSize":5.6,"color":"#50535e"},"encoding":{"x":{"datum":182},"y":{"field":"v","type":"quantitative"},"text":{"field":"t"}}},
  {"data":{"values":[{}]},"mark":{"type":"text","color":"#555964","text":"MACD 12 26 close"},"encoding":{"x":{"datum":1.4},"y":{"datum":0.048}}},
  {"data":{"values":[{}]},"mark":{"type":"text","color":"#ef5350","text":"−0,000"},"encoding":{"x":{"datum":14.9},"y":{"datum":0.048}}},
  {"data":{"values":[{}]},"mark":{"type":"text","color":"#2962ff","text":"0,016"},"encoding":{"x":{"datum":19.7},"y":{"datum":0.048}}},
  {"data":{"values":[{}]},"mark":{"type":"text","color":"#ff8a3d","text":"0,015"},"encoding":{"x":{"datum":23.7},"y":{"datum":0.048}}}
 ]},
{"width":616,"height":36,
 "layer":[
  {"data":{"values":[{}]},"mark":{"type":"rect","color":"#2196f3","opacity":0.08},
   "encoding":{"x":{"datum":0,"type":"quantitative","scale":{"domain":[0,176],"nice":false,"zero":false},"axis":{"values":[19.4,50.9,82.3,113.7,145.1],"grid":true,"labels":false,"title":null}},"x2":{"datum":176},
    "y":{"datum":100,"type":"quantitative","scale":{"domain":[-283,317],"nice":false,"zero":false},"axis":{"orient":"right","values":[-200,0,200],"grid":true,"labels":false,"title":null}},"y2":{"datum":-100}}},
  {"data":{"values":[{"v":100},{"v":-100}]},"mark":{"type":"rule","color":"#a0a3ac","strokeWidth":0.7,"strokeDash":[2,2]},"encoding":{"y":{"field":"v","type":"quantitative"}}},
  {"data":{"name":"cci"},"transform":[{"filter":"datum.s==='m'"}],"mark":{"type":"line","color":"#f3c56e","strokeWidth":1,"interpolate":"monotone"},"encoding":{"x":{"field":"i","type":"quantitative"},"y":{"field":"v","type":"quantitative"}}},
  {"data":{"name":"cci"},"transform":[{"filter":"datum.s==='c'"}],"mark":{"type":"line","color":"#6d93e0","strokeWidth":1,"clip":true},"encoding":{"x":{"field":"i","type":"quantitative"},"y":{"field":"v","type":"quantitative"}}},
  {"data":{"values":[{"v":-200},{"v":0},{"v":200}]},"transform":[{"calculate":"replace(format(datum.v,'.2f'),'.',',')","as":"t"}],
   "mark":{"type":"text","align":"right","fontSize":5.6,"color":"#50535e"},"encoding":{"x":{"datum":182},"y":{"field":"v","type":"quantitative"},"text":{"field":"t"}}},
  {"data":{"values":[{}]},"mark":{"type":"text","color":"#555964","text":"CCI 20 hlc3"},"encoding":{"x":{"datum":1.4},"y":{"datum":183}}},
  {"data":{"values":[{}]},"mark":{"type":"text","color":"#2962ff","text":"20,71"},"encoding":{"x":{"datum":10.3},"y":{"datum":183}}},
  {"data":{"values":[{}]},"mark":{"type":"text","color":"#e8a23a","text":"57,52"},"encoding":{"x":{"datum":14.9},"y":{"datum":183}}},
  {"data":{"values":[{}]},"mark":{"type":"text","color":"#131722","fontSize":9,"fontWeight":"bold","align":"center","text":"TV"},"encoding":{"x":{"datum":2.9},"y":{"datum":-183}}}
 ]}
]
}
